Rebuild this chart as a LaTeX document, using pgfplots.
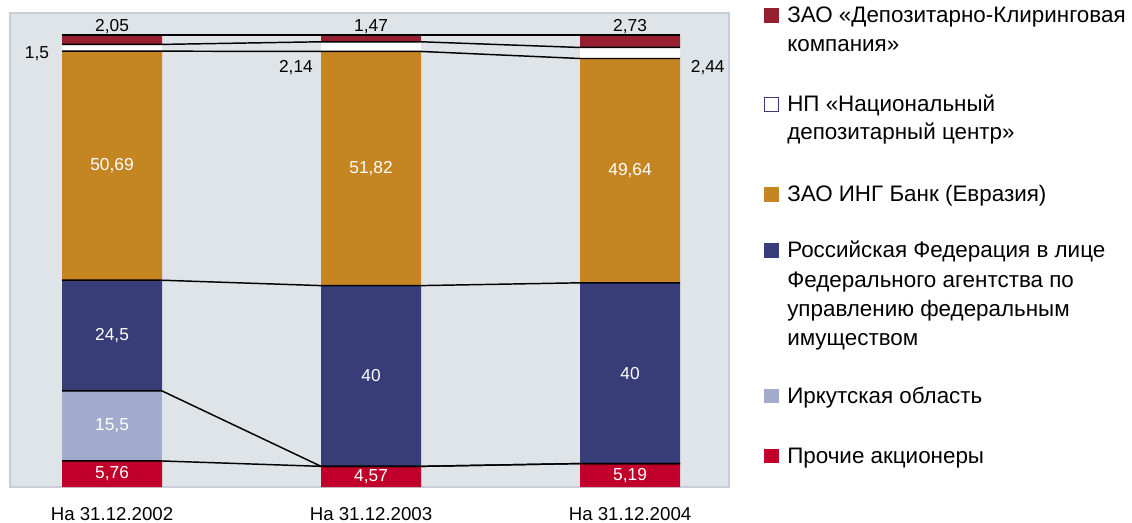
\documentclass[border=0pt]{standalone}
\usepackage{fontspec}
\setmainfont{Liberation Sans}
\usepackage{pgfplots}
\pgfplotsset{compat=1.18}
\definecolor{dkk}{RGB}{150,32,47}
\definecolor{ing}{RGB}{198,133,35}
\definecolor{rf}{RGB}{56,61,120}
\definecolor{irk}{RGB}{161,171,203}
\definecolor{proch}{RGB}{192,0,42}
\definecolor{bgcol}{RGB}{223,228,232}
\definecolor{bordercol}{RGB}{200,206,217}
\begin{document}
\begin{tikzpicture}
\path[use as bounding box] (0,0) rectangle (849pt,391.5pt);
\pgfplotsset{base/.style={at={(7.5pt,26.25pt)}, anchor=south west, scale only axis,
  width=539.25pt, height=355.5pt, xmin=-0.394, xmax=2.382, ymin=0, ymax=104.9}}
\begin{axis}[base, ybar stacked, bar width=75pt,
  axis background/.style={fill=bgcol},
  axis line style={draw=bordercol, line width=2pt},
  ytick=\empty, xtick={0,1,2},
  xticklabels={На 31.12.2002, На 31.12.2003, На 31.12.2004},
  major tick length=0pt,
  xticklabel style={font=\fontsize{14}{16}\selectfont, anchor=base, yshift=-25pt}]
\addplot[fill=proch, draw=none] coordinates {(0,5.76) (1,4.57) (2,5.19)};
\addplot[fill=irk, draw=none] coordinates {(0,15.5) (1,0) (2,0)};
\addplot[fill=rf, draw=none] coordinates {(0,24.5) (1,40) (2,40)};
\addplot[fill=ing, draw=none] coordinates {(0,50.69) (1,51.82) (2,49.64)};
\addplot[fill=white, draw=none] coordinates {(0,1.5) (1,2.14) (2,2.44)};
\addplot[fill=dkk, draw=none] coordinates {(0,2.05) (1,1.47) (2,2.73)};
\end{axis}
\begin{axis}[base, hide axis, clip=false]
\tikzset{conn/.style={black, solid, line width=1.1pt, mark=none, line join=round}}
\addplot[conn] coordinates {(-0.193,5.76) (0.193,5.76) (0.807,4.57) (1.193,4.57) (1.807,5.19) (2.193,5.19)};
\addplot[conn] coordinates {(-0.193,21.26) (0.193,21.26) (0.807,4.57) (1.193,4.57) (1.807,5.19) (2.193,5.19)};
\addplot[conn] coordinates {(-0.193,45.76) (0.193,45.76) (0.807,44.57) (1.193,44.57) (1.807,45.19) (2.193,45.19)};
\addplot[conn] coordinates {(-0.193,96.45) (0.193,96.45) (0.807,96.39) (1.193,96.39) (1.807,94.83) (2.193,94.83)};
\addplot[conn] coordinates {(-0.193,97.95) (0.193,97.95) (0.807,98.53) (1.193,98.53) (1.807,97.27) (2.193,97.27)};
\addplot[conn] coordinates {(-0.193,100) (0.193,100) (0.807,100) (1.193,100) (1.807,100) (2.193,100)};
\begin{scope}[every node/.style={font=\fontsize{13}{15}\selectfont, inner sep=0pt}]
\node[white] at (axis cs:0,2.88) {5,76};
\node[white] at (axis cs:0,13.51) {15,5};
\node[white] at (axis cs:0,33.51) {24,5};
\node[white] at (axis cs:0,71.1) {50,69};
\node[white] at (axis cs:1,2.285) {4,57};
\node[white] at (axis cs:1,24.57) {40};
\node[white] at (axis cs:1,70.48) {51,82};
\node[white] at (axis cs:2,2.6) {5,19};
\node[white] at (axis cs:2,25.19) {40};
\node[white] at (axis cs:2,70.01) {49,64};
\node at (axis cs:0,101.9) {2,05};
\node at (axis cs:1,101.9) {1,47};
\node at (axis cs:2,101.9) {2,73};
\node at (axis cs:-0.29,95.8) {1,5};
\node at (axis cs:0.71,92.9) {2,14};
\node at (axis cs:2.30,92.9) {2,44};
\end{scope}
\end{axis}
\begin{scope}[x=0.75pt, y=-0.75pt, shift={(0,391.5pt)},
  every node/.style={font=\fontsize{16.8}{19}\selectfont, anchor=base west, inner sep=0pt}]
\fill[dkk] (764,8.5) rectangle (779,23);
\node at (787,23) {ЗАО «Депозитарно-Клиринговая};
\node at (787,52) {компания»};
\draw[rf, line width=0.6pt, fill=white] (764.5,97.5) rectangle (778.5,111.5);
\node at (787,112) {НП «Национальный};
\node at (787,140) {депозитарный центр»};
\fill[ing] (764,187.5) rectangle (779,202);
\node at (787,202) {ЗАО ИНГ Банк (Евразия)};
\fill[rf] (764,243.5) rectangle (779,258);
\node at (787,258) {Российская Федерация в лице};
\node at (787,288) {Федерального агентства по};
\node at (787,317) {управлению федеральным};
\node at (787,346) {имуществом};
\fill[irk] (764,388.5) rectangle (779,403);
\node at (787,403) {Иркутская область};
\fill[proch] (764,448.5) rectangle (779,463);
\node at (787,463) {Прочие акционеры};
\end{scope}
\end{tikzpicture}
\end{document}
